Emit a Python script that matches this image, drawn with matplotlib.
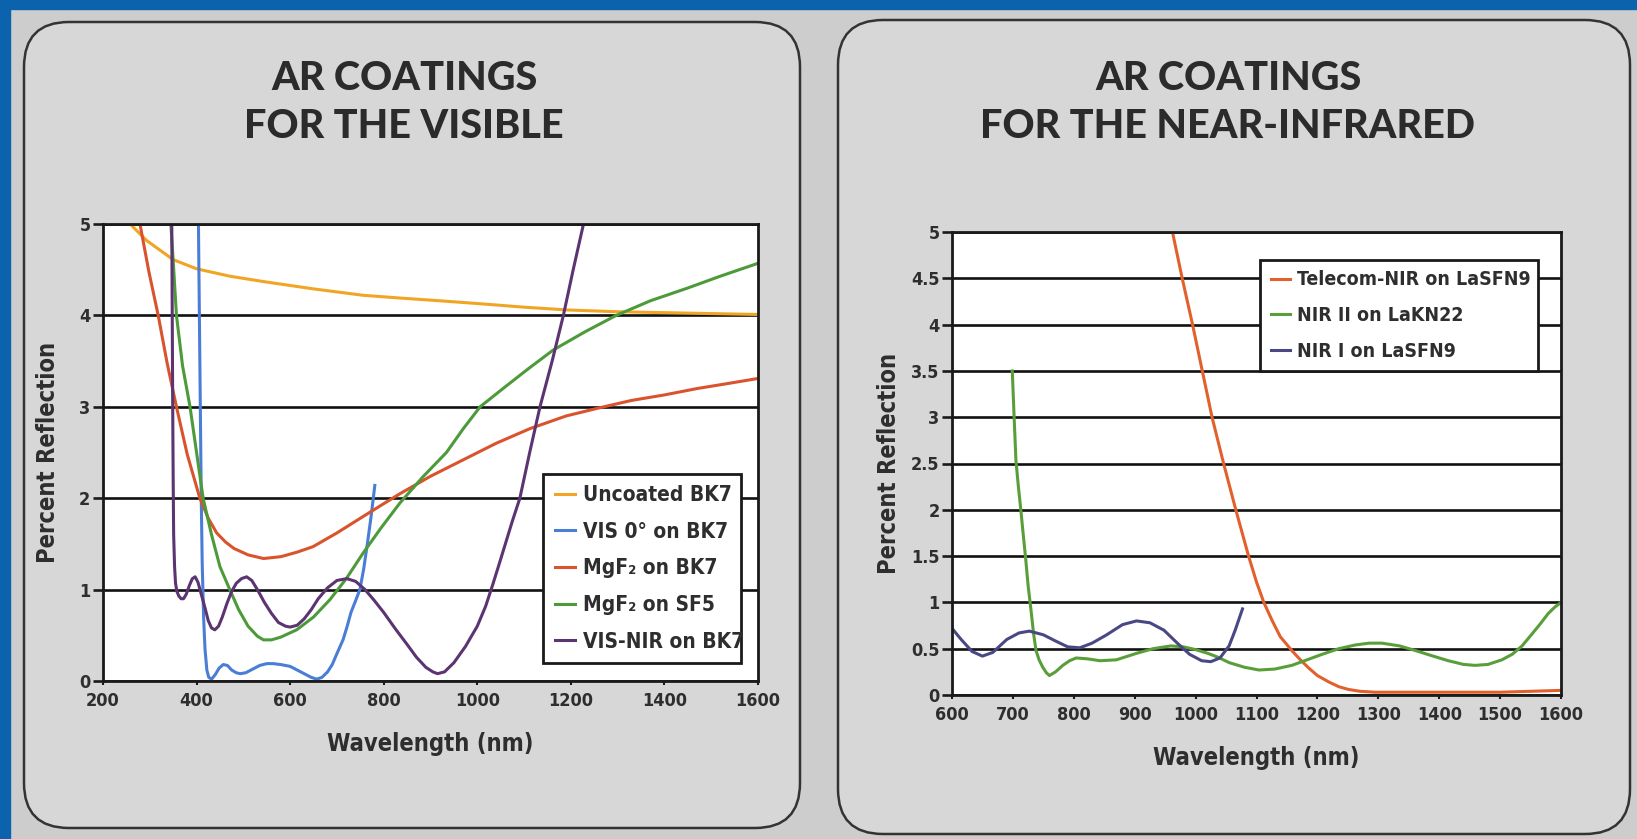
import numpy as np
import matplotlib
matplotlib.use("Agg")
import matplotlib.pyplot as plt
from matplotlib.patches import FancyBboxPatch, Rectangle
from matplotlib import font_manager

# ---------- data ----------
# left panel: AR coatings for the visible
vis_xticks = [200, 400, 600, 800, 1000, 1200, 1400, 1600]
vis_yticks = [0, 1, 2, 3, 4, 5]

uncoated_wl = [258, 293, 350, 400, 470, 543, 650, 756, 835, 920, 1000, 1100, 1191, 1300, 1400, 1500, 1600]
uncoated_r = [5.0, 4.82, 4.61, 4.51, 4.43, 4.37, 4.29, 4.22, 4.19, 4.16, 4.13, 4.09, 4.06, 4.04, 4.03, 4.02, 4.01]

vis0_wl = [404, 406, 408, 410, 412, 415, 418, 422, 426, 432, 440, 448, 457, 466, 475, 485, 493, 505,
           520, 535, 550, 564, 580, 600, 615, 630, 645, 657, 668, 680, 690, 700, 713, 722, 730, 740,
           749, 757, 765, 773, 781]
vis0_r = [5.0, 4.0, 3.0, 2.0, 1.3, 0.7, 0.35, 0.12, 0.04, 0.02, 0.07, 0.14, 0.18, 0.17, 0.12, 0.09, 0.08, 0.09,
          0.13, 0.17, 0.19, 0.19, 0.18, 0.16, 0.12, 0.08, 0.04, 0.02, 0.04, 0.1, 0.18, 0.3, 0.45, 0.6, 0.75, 0.88,
          1.0, 1.22, 1.5, 1.8, 2.14]

mgf2_bk7_wl = [279, 298, 318, 337, 357, 380, 407, 425, 443, 462, 480, 510, 543, 580, 615, 649, 700, 756,
               800, 835, 900, 970, 1040, 1112, 1190, 1262, 1330, 1400, 1470, 1530, 1600]
mgf2_bk7_r = [5.0, 4.48, 4.0, 3.48, 3.0, 2.48, 2.0, 1.78, 1.62, 1.52, 1.45, 1.38, 1.34, 1.36, 1.41, 1.47, 1.62, 1.8,
              1.94, 2.05, 2.24, 2.42, 2.6, 2.76, 2.9, 2.99, 3.07, 3.13, 3.2, 3.25, 3.31]

mgf2_sf5_wl = [345, 350, 357, 370, 386, 400, 414, 432, 450, 471, 490, 510, 530, 543, 560, 580, 614, 650,
               685, 720, 756, 795, 835, 885, 934, 970, 1006, 1060, 1110, 1162, 1230, 1297, 1370, 1450, 1520, 1600]
mgf2_sf5_r = [5.0, 4.6, 4.0, 3.45, 3.0, 2.5, 2.0, 1.6, 1.25, 1.0, 0.78, 0.6, 0.49, 0.45, 0.45, 0.48, 0.56, 0.7,
              0.89, 1.12, 1.4, 1.68, 1.95, 2.24, 2.5, 2.76, 3.0, 3.22, 3.42, 3.62, 3.82, 4.0, 4.16, 4.3, 4.43, 4.57]

visnir_wl = [347, 348, 349, 350, 351, 353, 355, 358, 362, 367, 372, 378, 385, 391, 397, 403, 410, 418, 425,
             432, 439, 447, 455, 465, 475, 485, 496, 507, 518, 530, 545, 560, 575, 590, 600, 615, 630, 645, 660,
             680, 700, 721, 740, 760, 780, 800, 825, 850, 870, 890, 905, 915, 930, 950, 975, 1000, 1018, 1034,
             1048, 1060, 1075, 1091, 1112, 1134, 1160, 1184, 1205, 1227]
visnir_r = [5.0, 4.0, 3.0, 2.2, 1.6, 1.25, 1.07, 0.98, 0.93, 0.9, 0.9, 0.95, 1.05, 1.12, 1.14, 1.08, 0.95, 0.8, 0.66,
            0.58, 0.56, 0.6, 0.7, 0.85, 0.98, 1.07, 1.12, 1.14, 1.1, 1.0, 0.86, 0.74, 0.64, 0.6, 0.59, 0.61, 0.68, 0.78, 0.9,
            1.02, 1.1, 1.12, 1.09, 1.0, 0.88, 0.75, 0.57, 0.4, 0.26, 0.15, 0.1, 0.08, 0.1, 0.2, 0.38, 0.6, 0.82, 1.07,
            1.3, 1.5, 1.75, 2.0, 2.5, 3.0, 3.5, 4.0, 4.5, 5.0]

vis_labels = ["Uncoated BK7", "VIS 0° on BK7", "MgF₂ on BK7", "MgF₂ on SF5", "VIS-NIR on BK7"]
vis_colors = ["#f0a524", "#4a7ed6", "#d9532c", "#4d9a3a", "#5b3471"]

# right panel: AR coatings for the near-infrared
nir_xticks = [600, 700, 800, 900, 1000, 1100, 1200, 1300, 1400, 1500, 1600]
nir_yticks = [0, 0.5, 1, 1.5, 2, 2.5, 3, 3.5, 4, 4.5, 5]
nir_yticklabels = ["0", "0.5", "1", "1.5", "2", "2.5", "3", "3.5", "4", "4.5", "5"]

telecom_wl = [962, 978, 995, 1011, 1027, 1046, 1066, 1087, 1100, 1112, 1126, 1139, 1158, 1172, 1186, 1200, 1219,
              1235, 1251, 1270, 1295, 1350, 1400, 1450, 1500, 1550, 1600]
telecom_r = [5.0, 4.5, 4.0, 3.5, 3.0, 2.5, 2.0, 1.5, 1.22, 1.0, 0.8, 0.63, 0.48, 0.38, 0.29, 0.21, 0.14,
             0.09, 0.06, 0.04, 0.03, 0.03, 0.03, 0.03, 0.03, 0.04, 0.05]

nir2_wl = [699, 702, 705, 709, 713, 717, 721, 725, 730, 734, 738, 743, 749, 755, 760, 770, 782, 793, 804, 823,
           843, 870, 903, 930, 959, 980, 1000, 1020, 1036, 1055, 1080, 1104, 1130, 1158, 1183, 1208, 1235, 1262,
           1285, 1306, 1335, 1361, 1390, 1415, 1440, 1459, 1480, 1503, 1520, 1536, 1550, 1565, 1579, 1590, 1600]
nir2_r = [3.5, 3.0, 2.53, 2.25, 2.0, 1.73, 1.47, 1.18, 0.9, 0.66, 0.48, 0.38, 0.3, 0.24, 0.21, 0.25, 0.32, 0.37, 0.4,
          0.39, 0.37, 0.38, 0.45, 0.5, 0.53, 0.52, 0.49, 0.45, 0.41, 0.35, 0.3, 0.27, 0.28, 0.32, 0.38, 0.44, 0.5, 0.54,
          0.56, 0.56, 0.53, 0.48, 0.42, 0.37, 0.33, 0.32, 0.33, 0.38, 0.44, 0.53, 0.64, 0.76, 0.88, 0.95, 1.0]

nir1_wl = [600, 615, 633, 650, 667, 690, 710, 727, 750, 771, 790, 810, 830, 854, 880, 903, 925, 948,
           970, 990, 1010, 1025, 1040, 1055, 1065, 1077]
nir1_r = [0.72, 0.6, 0.47, 0.42, 0.46, 0.6, 0.67, 0.69, 0.65, 0.58, 0.52, 0.51, 0.56, 0.65, 0.76, 0.8, 0.78, 0.7,
          0.56, 0.44, 0.37, 0.36, 0.4, 0.53, 0.7, 0.93]

nir_labels = ["Telecom-NIR on LaSFN9", "NIR II on LaKN22", "NIR I on LaSFN9"]
nir_colors = ["#e2602c", "#5a9e3a", "#4a4884"]

# ---------- fonts ----------
names = {f.name for f in font_manager.fontManager.ttflist}
NARROW = ["Liberation Sans Narrow", "DejaVu Sans"] if "Liberation Sans Narrow" in names else ["DejaVu Sans"]
STRETCH = "normal" if "Liberation Sans Narrow" in names else "condensed"
TITLE = ["Lato", "DejaVu Sans"] if "Lato" in names else ["DejaVu Sans"]

TXT = "#2e2e2e"
W, H = 1637, 839


def px_axes(fig, left, top, right, bottom):
    return fig.add_axes([left / W, 1 - bottom / H, (right - left) / W, (bottom - top) / H])


def style_axes(ax, xlim, ylim, xticks, yticks, yticklabels=None):
    ax.set_facecolor("white")
    ax.set_xlim(*xlim)
    ax.set_ylim(*ylim)
    ax.set_xticks(xticks)
    ax.set_yticks(yticks)
    if yticklabels is not None:
        ax.set_yticklabels(yticklabels)
    ax.yaxis.grid(True, color="#111111", linewidth=1.9)
    ax.set_axisbelow(True)
    for s in ax.spines.values():
        s.set_color("#1a1a1a")
        s.set_linewidth(2.0)
    ax.tick_params(axis="y", direction="out", length=7, width=1.9, color="#1a1a1a", pad=2)
    ax.tick_params(axis="x", direction="out", length=3, width=1.5, color="#1a1a1a", pad=5)
    for lab in ax.get_xticklabels() + ax.get_yticklabels():
        lab.set_family(NARROW)
        lab.set_fontstretch(STRETCH)
        lab.set_fontweight("bold")
        lab.set_fontsize(13)
        lab.set_color(TXT)


def add_legend(ax, bbox, loc, spacing, size):
    leg = ax.legend(loc=loc, bbox_to_anchor=bbox, mode="expand",
                    borderaxespad=0, handlelength=1.0, handletextpad=0.35, labelspacing=spacing,
                    borderpad=0.55, fancybox=False, framealpha=1, edgecolor="#1a1a1a",
                    prop={"family": NARROW, "stretch": STRETCH, "weight": "bold", "size": size})
    leg.get_frame().set_linewidth(2.0)
    for t in leg.get_texts():
        t.set_color(TXT)
    return leg


fig = plt.figure(figsize=(W / 100, H / 100), dpi=100)
fig.patch.set_facecolor("#cdcdcd")

# background with rounded panels (pixel coordinates)
bg = fig.add_axes([0, 0, 1, 1])
bg.set_xlim(0, W)
bg.set_ylim(H, 0)
bg.axis("off")
bg.add_patch(Rectangle((0, 0), W, 9, color="#0b63ae", zorder=3))
bg.add_patch(Rectangle((0, 0), 10, H, color="#0b63ae", zorder=3))
for (x0, y0, x1, y1) in [(24, 22, 800, 828), (838, 20, 1630, 834)]:
    bg.add_patch(FancyBboxPatch((x0 + 45, y0 + 45), x1 - x0 - 90, y1 - y0 - 90,
                                boxstyle="round,pad=45", facecolor="#d7d7d7",
                                edgecolor="#333333", linewidth=1.8, zorder=1))

# titles
for cx, lines in [(404, ["AR COATINGS", "FOR THE VISIBLE"]), (1228, ["AR COATINGS", "FOR THE NEAR-INFRARED"])]:
    for ty, line in zip([79, 126], lines):
        fig.text(cx / W, 1 - ty / H, line, ha="center", va="center", family=TITLE,
                 fontweight="black", fontsize=28.5, color="#2b2b2b")

# ---------- left chart ----------
ax1 = px_axes(fig, 103, 224, 758, 681)
style_axes(ax1, (200, 1600), (0, 5), vis_xticks, vis_yticks)
series_vis = [(uncoated_wl, uncoated_r), (vis0_wl, vis0_r), (mgf2_bk7_wl, mgf2_bk7_r),
              (mgf2_sf5_wl, mgf2_sf5_r), (visnir_wl, visnir_r)]
for (wl, r), lab, c in zip(series_vis, vis_labels, vis_colors):
    ax1.plot(wl, r, color=c, linewidth=2.2, label=lab)
ax1.set_xlabel("Wavelength (nm)", family=NARROW, fontstretch=STRETCH, fontweight="bold",
               fontsize=17, color=TXT, labelpad=16)
ax1.set_ylabel("Percent Reflection", family=NARROW, fontstretch=STRETCH, fontweight="bold",
               fontsize=17, color=TXT, labelpad=14)
add_legend(ax1, (0.672, 0.039, 0.302, 0.44), "lower left", 0.8, 15)

# ---------- right chart ----------
ax2 = px_axes(fig, 952, 232, 1561, 695)
style_axes(ax2, (600, 1600), (0, 5), nir_xticks, nir_yticks, nir_yticklabels)
series_nir = [(telecom_wl, telecom_r), (nir2_wl, nir2_r), (nir1_wl, nir1_r)]
for (wl, r), lab, c in zip(series_nir, nir_labels, nir_colors):
    ax2.plot(wl, r, color=c, linewidth=2.2, label=lab)
ax2.set_xlabel("Wavelength (nm)", family=NARROW, fontstretch=STRETCH, fontweight="bold",
               fontsize=17, color=TXT, labelpad=16)
ax2.set_ylabel("Percent Reflection", family=NARROW, fontstretch=STRETCH, fontweight="bold",
               fontsize=17, color=TXT, labelpad=7)
add_legend(ax2, (0.506, 0.94, 0.456, 0.0), "upper left", 0.85, 14)

fig.savefig("out.png", dpi=100, facecolor=fig.get_facecolor())
